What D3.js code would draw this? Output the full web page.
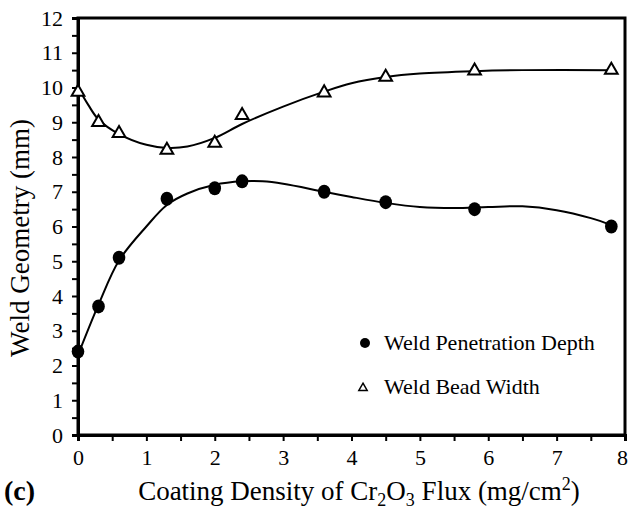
<!DOCTYPE html>
<html>
<head>
<meta charset="utf-8">
<script src="https://cdn.jsdelivr.net/npm/d3@7"></script>
<style>
  html, body { margin: 0; padding: 0; background: #fff; }
  svg { display: block; }
  text { font-family: "Liberation Serif", "Times New Roman", serif; fill: #000; }
</style>
</head>
<body>
<svg id="chart" width="629" height="516"></svg>
<script>
// ---- data ----
const coatingDensity = [0, 0.3, 0.6, 1.3, 2.0, 2.4, 3.6, 4.5, 5.8, 7.8];
const penetrationDepth = [2.4, 3.7, 5.1, 6.8, 7.1, 7.3, 7.0, 6.7, 6.5, 6.0];
const beadWidth = [9.87, 9.0, 8.68, 8.2, 8.4, 9.2, 9.85, 10.3, 10.48, 10.5];

// smoothed trend curves
const penFitX = [0, 0.3, 0.6, 1.0, 1.3, 1.6, 2.0, 2.4, 2.7, 3.0, 3.6, 4.0, 4.5, 5.0, 5.5, 6.0, 6.5, 7.0, 7.5, 7.8];
const penFitY = [2.3, 3.75, 5.02, 6.0, 6.62, 6.95, 7.2, 7.3, 7.3, 7.23, 7.0, 6.85, 6.68, 6.56, 6.53, 6.56, 6.58, 6.47, 6.24, 6.04];
const widthFitX = [0, 0.15, 0.3, 0.6, 1.0, 1.3, 1.6, 2.0, 2.4, 3.0, 3.6, 4.0, 4.5, 5.0, 5.8, 6.5, 7.8];
const widthFitY = [10.0, 9.5, 9.08, 8.66, 8.35, 8.26, 8.3, 8.55, 8.95, 9.45, 9.88, 10.12, 10.3, 10.4, 10.47, 10.5, 10.5];

const xTicks = [0, 1, 2, 3, 4, 5, 6, 7, 8];
const yTicks = [0, 1, 2, 3, 4, 5, 6, 7, 8, 9, 10, 11, 12];
const legendLabels = ["Weld Penetration Depth", "Weld Bead Width"];
const xTitle = "Coating Density of Cr";
const yTitle = "Weld Geometry (mm)";
const panelLabel = "(c)";

// ---- layout ----
const margin = { left: 78, top: 18, right: 4, bottom: 81 };
const W = 629, H = 516;
const svg = d3.select("#chart");

const x = d3.scaleLinear().domain([0, 8]).range([margin.left, W - margin.right]);
const y = d3.scaleLinear().domain([0, 12]).range([H - margin.bottom, margin.top]);

const minorX = d3.range(0, 8.01, 0.5);
const minorY = d3.range(0, 12.01, 0.5);

// frame (top & right)
svg.append("rect")
  .attr("x", x(0)).attr("y", y(12))
  .attr("width", x(8) - x(0)).attr("height", y(0) - y(12))
  .attr("fill", "none").attr("stroke", "#000").attr("stroke-width", 3);

// x axis
const xAxis = svg.append("g")
  .attr("transform", `translate(0,${y(0)})`)
  .call(d3.axisBottom(x).tickValues(minorX).tickSize(6).tickPadding(8)
    .tickFormat(d => xTicks.includes(d) ? d3.format("d")(d) : ""));
xAxis.select(".domain").attr("stroke-width", 3);
xAxis.selectAll(".tick line").attr("stroke-width", 2);
xAxis.selectAll(".tick text")
  .style("font-size", "22px").style("font-family", "'Liberation Serif', serif")
  .attr("dx", d => d === 8 ? -3 : 0);

// y axis
const yAxis = svg.append("g")
  .attr("transform", `translate(${x(0)},0)`)
  .call(d3.axisLeft(y).tickValues(minorY).tickSize(6).tickPadding(9)
    .tickFormat(d => yTicks.includes(d) ? d3.format("d")(d) : ""));
yAxis.select(".domain").attr("stroke-width", 3);
yAxis.selectAll(".tick line").attr("stroke-width", 2);
yAxis.selectAll(".tick text")
  .style("font-size", "22px").style("font-family", "'Liberation Serif', serif");

// curves
const line = d3.line().x(d => x(d[0])).y(d => y(d[1])).curve(d3.curveCatmullRom.alpha(0.5));
svg.append("path")
  .datum(penFitX.map((v, i) => [v, penFitY[i]]))
  .attr("d", line).attr("fill", "none").attr("stroke", "#000").attr("stroke-width", 2);
svg.append("path")
  .datum(widthFitX.map((v, i) => [v, widthFitY[i]]))
  .attr("d", line).attr("fill", "none").attr("stroke", "#000").attr("stroke-width", 2);

// markers
const tri = d3.symbol().type(d3.symbolTriangle);
svg.append("g").selectAll("path")
  .data(coatingDensity.map((v, i) => [v, beadWidth[i]]))
  .join("path")
  .attr("d", tri.size(70))
  .attr("transform", d => `translate(${x(d[0])},${y(d[1])})`)
  .attr("fill", "#fff").attr("stroke", "#000").attr("stroke-width", 2);

svg.append("g").selectAll("ellipse")
  .data(coatingDensity.map((v, i) => [v, penetrationDepth[i]]))
  .join("ellipse")
  .attr("cx", d => x(d[0])).attr("cy", d => y(d[1]))
  .attr("rx", 6.3).attr("ry", 7)
  .attr("fill", "#000");

// legend
const lg = svg.append("g");
lg.append("circle").attr("cx", 365).attr("cy", 343).attr("r", 5).attr("fill", "#000");
lg.append("path").attr("d", d3.symbol().type(d3.symbolTriangle).size(30)())
  .attr("transform", "translate(363,388)")
  .attr("fill", "#fff").attr("stroke", "#000").attr("stroke-width", 1.5);
lg.selectAll("text.lab").data(legendLabels).join("text")
  .attr("class", "lab")
  .attr("x", 384).attr("y", (d, i) => 350 + i * 44)
  .style("font-size", "22px")
  .text(d => d);

// axis titles
const xt = svg.append("text")
  .attr("x", 359).attr("y", 500)
  .attr("text-anchor", "middle")
  .style("font-size", "27px");
xt.append("tspan").text(xTitle);
xt.append("tspan").style("font-size", "18px").attr("dy", 6).text("2");
xt.append("tspan").attr("dy", -6).text("O");
xt.append("tspan").style("font-size", "18px").attr("dy", 6).text("3");
xt.append("tspan").attr("dy", -6).text(" Flux (mg/cm");
xt.append("tspan").style("font-size", "18px").attr("dy", -10).text("2");
xt.append("tspan").attr("dy", 10).text(")");

svg.append("text")
  .attr("transform", `translate(29,238) rotate(-90)`)
  .attr("text-anchor", "middle")
  .style("font-size", "27px")
  .text(yTitle);

svg.append("text")
  .attr("x", 4).attr("y", 500)
  .style("font-size", "28px").style("font-weight", "bold")
  .text(panelLabel);
</script>
</body>
</html>
